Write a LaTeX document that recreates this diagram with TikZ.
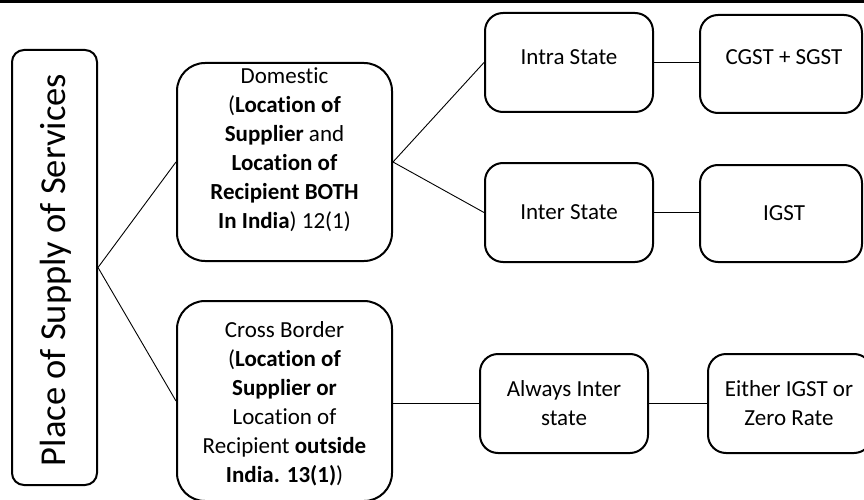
\documentclass[tikz,border=0pt]{standalone}
\usepackage{fontspec}
\setmainfont{Carlito}[Ligatures=NoCommon]
\begin{document}
\begin{tikzpicture}[x=1pt,y=-1pt,
  box/.style={draw=black,line width=2pt,rounded corners=#1,inner sep=0pt,anchor=center},
  box/.default=18pt,
  txt/.style={align=center,inner sep=0pt,font=\fontsize{23}{29}\selectfont},
  link/.style={draw=black,line width=0.9pt}]
  \useasboundingbox (0,0) rectangle (864,500);
  \clip (0,0) rectangle (864,500);
  % top rule
  \fill[black] (0,0) rectangle (864,3.5);

  % root
  \node[box=12pt,minimum width=85pt,minimum height=435pt] (root) at (54.5,267.5) {};
  \node[rotate=90,inner sep=0pt,font=\fontsize{36.5}{40}\selectfont] (roottext) at (56,270) {Place of Supply of Services};

  % second level
  \node[box=28pt,minimum width=215pt,minimum height=198pt] (dom) at (284.5,162) {};
  \node[txt] (domtext) at (284.5,150) {Domestic\\(\textbf{Location of}\\\textbf{Supplier} and\\\textbf{Location of}\\\textbf{Recipient BOTH}\\\textbf{In India}) 12(1)};

  \node[box=28pt,minimum width=215pt,minimum height=200pt] (cross) at (284.5,401) {};
  \node[txt] (crosstext) at (284.5,403.5) {Cross Border\\(\textbf{Location of}\\\textbf{Supplier or}\\Location of\\Recipient \textbf{outside}\\\textbf{India. 13(1)})};

  % third level
  \node[box,minimum width=168pt,minimum height=99pt] (intra) at (569,62.5) {};
  \node[txt] (intratext) at (569,57) {Intra State};
  \node[box,minimum width=168pt,minimum height=99pt] (inter) at (569,212.5) {};
  \node[txt] (intertext) at (569,212) {Inter State};
  \node[box,minimum width=168pt,minimum height=99pt] (always) at (564,403.5) {};
  \node[txt] (alwaystext) at (564,403) {Always Inter\\state};

  % fourth level
  \node[box,minimum width=162pt,minimum height=98pt] (cgst) at (781,64) {};
  \node[txt] (cgsttext) at (784,57) {CGST + SGST};
  \node[box,minimum width=162pt,minimum height=97pt] (igst) at (781,213.5) {};
  \node[txt] (igsttext) at (784,213) {IGST};
  \node[box,minimum width=164pt,minimum height=99pt] (either) at (790,403.5) {};
  \node[txt] (eithertext) at (789,403) {Either IGST or\\Zero Rate};

  % connectors
  \coordinate (rootout) at (root.east);
  \draw[link] (rootout) -- (dom.west);
  \draw[link] (rootout) -- (cross.west);
  \draw[link] (dom.east) -- (intra.west);
  \draw[link] (dom.east) -- (inter.west);
  \draw[link] (cross.east |- always.west) -- (always.west);
  \draw[link] (intra.east) -- (intra.east -| cgst.west);
  \draw[link] (inter.east) -- (inter.east -| igst.west);
  \draw[link] (always.east) -- (either.west);
\end{tikzpicture}
\end{document}
